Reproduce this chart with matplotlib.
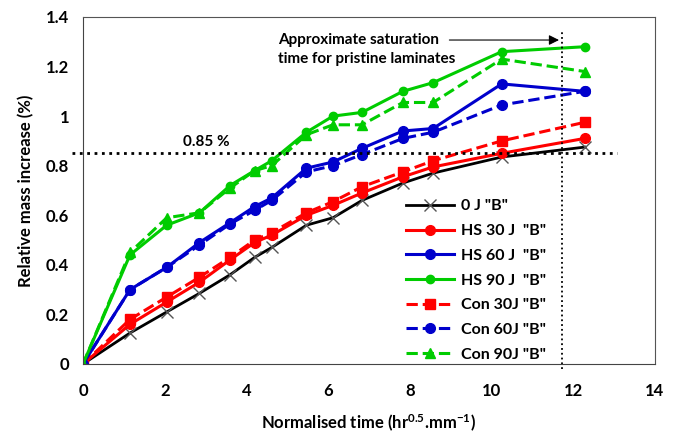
import numpy as np
import matplotlib.pyplot as plt

plt.rcParams['font.family'] = ['Lato', 'DejaVu Sans']
plt.rcParams['font.weight'] = 'bold'
plt.rcParams['mathtext.fontset'] = 'custom'
plt.rcParams['mathtext.rm'] = 'Lato:bold'
plt.rcParams['mathtext.bf'] = 'Lato:bold'
plt.rcParams['mathtext.default'] = 'bf'

# normalised time (hr^0.5 / mm)
t = [0, 1.15, 2.05, 2.85, 3.6, 4.2, 4.62, 5.47, 6.12, 6.83, 7.83, 8.57, 10.25, 12.28]

# relative mass increase (%)
j0 = [0, 0.125, 0.21, 0.285, 0.36, 0.43, 0.47, 0.56, 0.59, 0.66, 0.73, 0.77, 0.835, 0.875]
hs30 = [0, 0.16, 0.25, 0.33, 0.42, 0.49, 0.52, 0.60, 0.64, 0.69, 0.755, 0.795, 0.85, 0.91]
hs60 = [0, 0.30, 0.39, 0.49, 0.57, 0.635, 0.67, 0.79, 0.815, 0.87, 0.94, 0.95, 1.13, 1.10]
hs90 = [0, 0.44, 0.56, 0.61, 0.72, 0.78, 0.82, 0.935, 1.0, 1.015, 1.10, 1.135, 1.26, 1.28]
con30 = [0, 0.18, 0.27, 0.35, 0.43, 0.50, 0.53, 0.61, 0.655, 0.715, 0.775, 0.82, 0.90, 0.975]
con60 = [0, 0.30, 0.39, 0.48, 0.565, 0.62, 0.66, 0.775, 0.80, 0.845, 0.91, 0.935, 1.045, 1.10]
con90 = [0, 0.45, 0.59, 0.61, 0.71, 0.78, 0.80, 0.925, 0.965, 0.965, 1.055, 1.055, 1.23, 1.18]

labels = ['0 J "B"', 'HS 30 J  "B"', 'HS 60 J  "B"', 'HS 90 J  "B"',
          'Con 30J "B"', 'Con 60J "B"', 'Con 90J "B"']

sat_level = 0.85
sat_time = 11.72

RED, BLUE, GREEN = '#FF0000', '#0000CC', '#00CC00'

fig = plt.figure(figsize=(6.76, 4.33), dpi=100)
ax = fig.add_axes([0.1228, 0.1594, 0.846, 0.8014])

ax.plot(t, j0, '-', color='black', lw=2, marker='x', ms=8,
        mec='#555555', mew=1, label=labels[0])
ax.plot(t, hs30, '-', color=RED, lw=2.2, marker='o', ms=7, label=labels[1])
ax.plot(t, hs60, '-', color=BLUE, lw=2.2, marker='o', ms=7, label=labels[2])
ax.plot(t, hs90, '-', color=GREEN, lw=2.2, marker='o', ms=6, label=labels[3])
ax.plot(t, con30, '--', color=RED, lw=2.2, marker='s', ms=7, label=labels[4])
ax.plot(t, con60, '--', color=BLUE, lw=2.2, marker='o', ms=7, label=labels[5])
ax.plot(t, con90, '--', color=GREEN, lw=2.2, marker='^', ms=7, label=labels[6])

# 0.85 % reference line and saturation time marker
ax.plot([-0.27, 13.07], [sat_level, sat_level], ':', color='black', lw=2,
        clip_on=False)
ax.text(3.03, 0.895, '0.85 %', ha='center', va='center', fontsize=11,
        fontweight='bold')
ax.plot([sat_time, sat_time], [-0.02, 1.34], ':', color='black', lw=1.3,
        clip_on=False)
ax.annotate('', xy=(sat_time, 1.307), xytext=(8.9, 1.307),
            arrowprops=dict(arrowstyle='-|>', color='black', lw=0.8,
                            mutation_scale=15))
ax.text(4.77, 1.335, 'Approximate saturation\ntime for pristine laminates',
        ha='left', va='top', fontsize=11, fontweight='bold',
        linespacing=1.45)

ax.set_xlim(0, 14)
ax.set_ylim(0, 1.4)
ax.set_xticks(np.arange(0, 15, 2))
ax.set_yticks([0, 0.2, 0.4, 0.6, 0.8, 1.0, 1.2, 1.4])
ax.set_yticklabels(['0', '0.2', '0.4', '0.6', '0.8', '1', '1.2', '1.4'])
ax.tick_params(length=0, labelsize=12)
ax.tick_params(axis='x', pad=14)
ax.tick_params(axis='y', pad=10)
for lab in ax.get_xticklabels() + ax.get_yticklabels():
    lab.set_fontweight('bold')

for side in ['top', 'right']:
    ax.spines[side].set_color('#555555')
for side in ['left', 'bottom']:
    ax.spines[side].set_color('#444444')

ax.set_xlabel('Normalised time (hr$^{0.5}$.mm$^{-1}$)',
              fontsize=12, fontweight='bold', labelpad=10)
ax.set_ylabel('Relative mass increase (%)', fontsize=12,
              fontweight='bold', labelpad=8)

ax.legend(loc='lower left', bbox_to_anchor=(0.54, -0.035), frameon=False,
          handlelength=3.0, handletextpad=0.4, labelspacing=0.66,
          prop={'weight': 'bold', 'size': 11.5})

fig.savefig('out.png', dpi=100)
